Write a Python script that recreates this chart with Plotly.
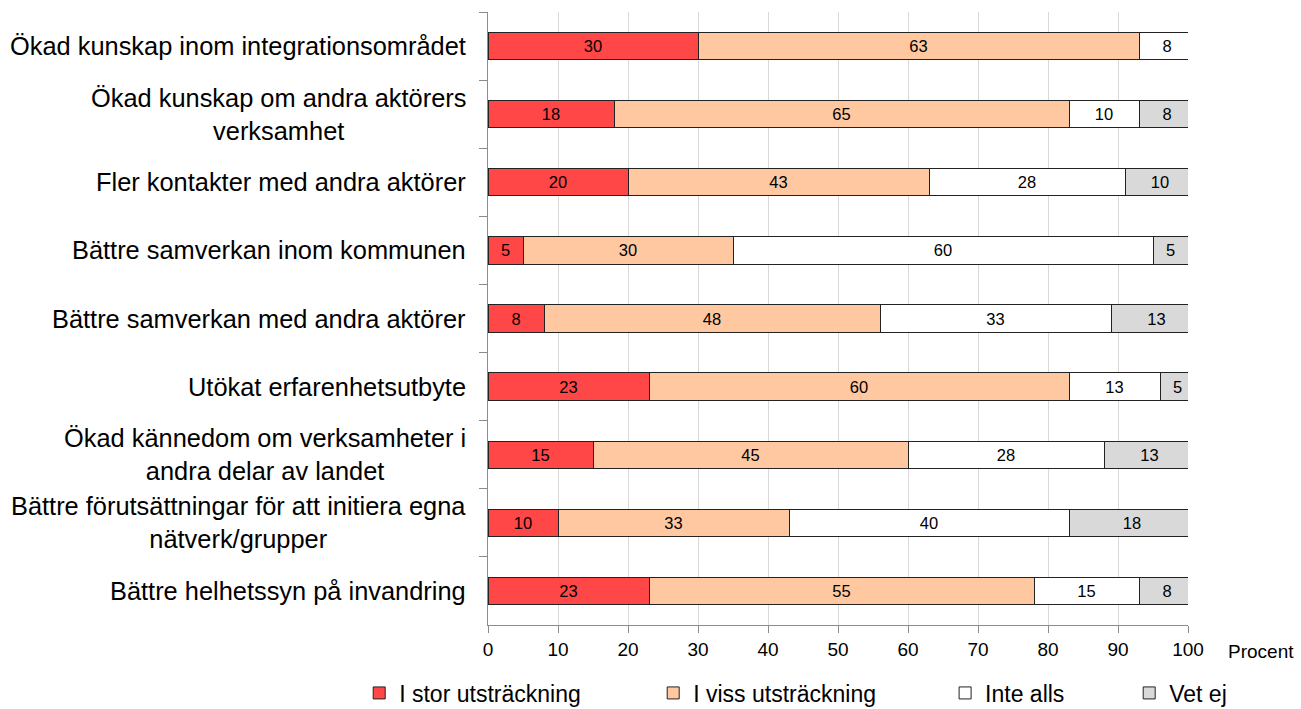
import plotly.graph_objects as go

# Survey items (top to bottom) and answer shares in percent
categories = [
    "Ökad kunskap inom integrationsområdet",
    "Ökad kunskap om andra aktörers<br>verksamhet",
    "Fler kontakter med andra aktörer",
    "Bättre samverkan inom kommunen",
    "Bättre samverkan med andra aktörer",
    "Utökat erfarenhetsutbyte",
    "Ökad kännedom om verksamheter i<br>andra delar av landet",
    "Bättre förutsättningar för att initiera egna<br>nätverk/grupper",
    "Bättre helhetssyn på invandring",
]
stor = [30, 18, 20, 5, 8, 23, 15, 10, 23]
viss = [63, 65, 43, 30, 48, 60, 45, 33, 55]
inte = [8, 10, 28, 60, 33, 13, 28, 40, 15]
vetej = [0, 8, 10, 5, 13, 5, 13, 18, 8]

series_names = ["I stor utsträckning", "I viss utsträckning", "Inte alls", "Vet ej"]
series_values = [stor, viss, inte, vetej]
series_colors = ["#FF4747", "#FFC8A1", "#FFFFFF", "#D9D9D9"]
legend_ids = ["legend", "legend2", "legend3", "legend4"]
legend_x = [-0.184, 0.236, 0.653, 0.916]

FONT = "Liberation Sans, Arial, sans-serif"

fig = go.Figure()
for name, vals, col, lid in zip(series_names, series_values, series_colors, legend_ids):
    fig.add_trace(go.Bar(
        y=categories,
        x=vals,
        name=name,
        orientation="h",
        marker=dict(color=col, line=dict(color="#222222", width=1)),
        text=[str(v) if v else "" for v in vals],
        textposition="inside",
        insidetextanchor="middle",
        textangle=0,
        textfont=dict(family=FONT, size=16.5, color="#000000"),
        constraintext="none",
        legend=lid,
    ))

# Category labels left of the axis, wrapped lines centred
for c in categories:
    fig.add_annotation(
        x=0, xref="paper", y=c, yref="y",
        xanchor="right", yanchor="middle", xshift=-20,
        text=c, showarrow=False, align="center",
        font=dict(family=FONT, size=25.4, color="#000000"),
    )

fig.add_annotation(
    x=1, xref="paper", y=0, yref="paper",
    xanchor="left", yanchor="top", xshift=38, yshift=-14,
    text="Procent", showarrow=False,
    font=dict(family=FONT, size=19, color="#000000"),
)

legend_common = dict(
    orientation="h", yref="container", yanchor="middle", y=0.0226,
    xanchor="left",
    font=dict(family=FONT, size=23, color="#000000"),
    bgcolor="rgba(0,0,0,0)", itemwidth=30,
)
layout_legends = {}
for lid, lx in zip(legend_ids, legend_x):
    layout_legends[lid] = dict(legend_common, x=lx)

fig.update_layout(
    width=1301, height=709,
    margin=dict(l=488, r=113, t=12, b=84, autoexpand=False),
    barmode="stack",
    bargap=0.6,
    plot_bgcolor="#FFFFFF",
    paper_bgcolor="#FFFFFF",
    font=dict(family=FONT, color="#000000"),
    showlegend=True,
    **layout_legends,
)

fig.update_xaxes(
    range=[0, 100], dtick=10, tick0=0,
    showgrid=True, gridcolor="#D9D9D9", gridwidth=1,
    showline=True, linecolor="#8C8C8C", linewidth=1,
    ticks="outside", ticklen=7, tickcolor="#8C8C8C",
    tickfont=dict(family=FONT, size=19, color="#000000"),
    zeroline=False, fixedrange=True,
)
fig.update_yaxes(
    autorange="reversed",
    showticklabels=False,
    tickson="boundaries",
    ticks="outside", ticklen=8, tickcolor="#8C8C8C",
    showline=True, linecolor="#8C8C8C", linewidth=1,
    showgrid=False, zeroline=False, fixedrange=True,
)

fig.write_html("out.html")
